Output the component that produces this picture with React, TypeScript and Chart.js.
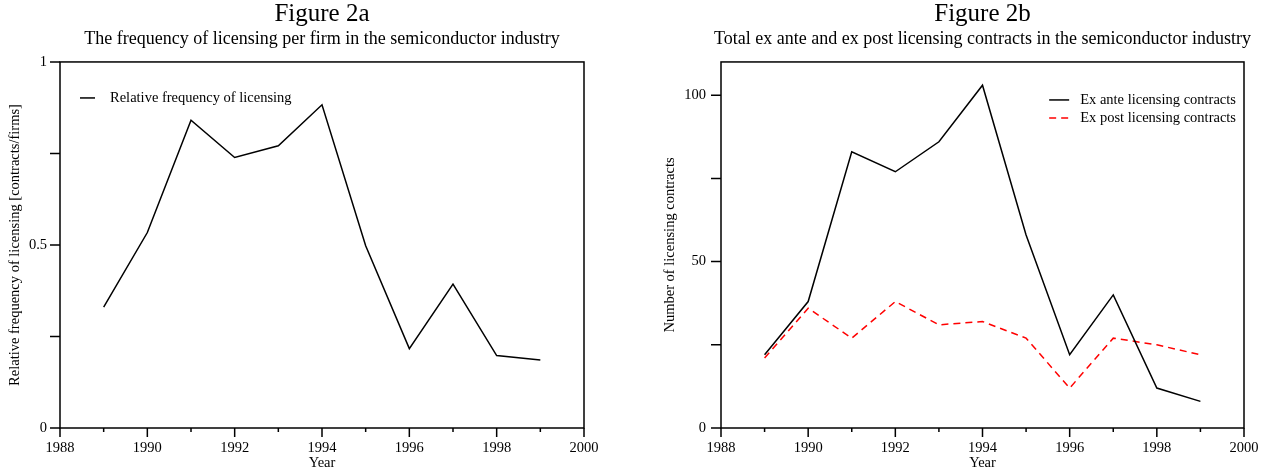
import React, { useEffect, useRef } from 'react';
import { Chart, registerables } from 'chart.js';

Chart.register(...registerables);

// ---------- data ----------
const years = [1989, 1990, 1991, 1992, 1993, 1994, 1995, 1996, 1997, 1998, 1999];
const relativeFrequency = [0.33, 0.534, 0.841, 0.739, 0.771, 0.883, 0.498, 0.217, 0.393, 0.198, 0.186];
const exAnte = [22, 38, 83, 77, 86, 103, 58, 22, 40, 12, 8];
const exPost = [21, 36, 27, 38, 31, 32, 27, 12, 27, 25, 22];

const xTickValues = [1988, 1989, 1990, 1991, 1992, 1993, 1994, 1995, 1996, 1997, 1998, 1999, 2000];
const xTickLabels = [1988, 1990, 1992, 1994, 1996, 1998, 2000];
const leftYTickValues = [0, 0.25, 0.5, 0.75, 1];
const leftYTickLabels = [0, 0.5, 1];
const rightYTickValues = [0, 25, 50, 75, 100];
const rightYTickLabels = [0, 50, 100];

const SERIF = "'Liberation Serif', 'Times New Roman', serif";

// ---------- plugins ----------
const innerLegend = {
  id: 'innerLegend',
  afterDraw(chart: any, _args: any, opts: any) {
    const { ctx, chartArea } = chart;
    ctx.save();
    ctx.font = `${opts.fontSize}px ${SERIF}`;
    ctx.textBaseline = 'middle';
    const items = chart.data.datasets;
    const maxW = Math.max(...items.map((d: any) => ctx.measureText(d.label).width));
    const blockW = opts.lineLen + opts.gap + maxW;
    const x0 = opts.align === 'right'
      ? chartArea.right - opts.offsetX - blockW
      : chartArea.left + opts.offsetX;
    items.forEach((d: any, i: number) => {
      const y = chartArea.top + opts.offsetY + i * opts.rowH;
      ctx.strokeStyle = d.borderColor;
      ctx.lineWidth = d.borderWidth;
      ctx.setLineDash(d.borderDash || []);
      ctx.beginPath();
      ctx.moveTo(x0, y);
      ctx.lineTo(x0 + opts.lineLen, y);
      ctx.stroke();
      ctx.setLineDash([]);
      ctx.fillStyle = '#000';
      ctx.textAlign = 'left';
      ctx.fillText(d.label, x0 + opts.lineLen + opts.gap, y);
    });
    ctx.restore();
  },
};

const frameTicks = {
  id: 'frameTicks',
  afterDatasetsDraw(chart: any, _args: any, opts: any) {
    const { ctx, chartArea: a } = chart;
    const xs = chart.scales.x;
    const ys = chart.scales.y;
    ctx.save();
    ctx.strokeStyle = '#000';
    ctx.lineWidth = opts.lineWidth;
    ctx.setLineDash([]);
    ctx.strokeRect(a.left, a.top, a.right - a.left, a.bottom - a.top);
    ctx.beginPath();
    xs.ticks.forEach((t: any) => {
      const px = xs.getPixelForValue(t.value);
      const len = t.label ? opts.xMajor : opts.xMinor;
      ctx.moveTo(px, a.bottom);
      ctx.lineTo(px, a.bottom + len);
    });
    ys.ticks.forEach((t: any) => {
      const py = ys.getPixelForValue(t.value);
      const len = t.label ? opts.yMajor : opts.yMinor;
      ctx.moveTo(a.left - len, py);
      ctx.lineTo(a.left, py);
    });
    ctx.stroke();
    ctx.restore();
  },
};

// ---------- config builder ----------
function makeConfig(p: {
  title: string;
  subtitle: string;
  yTitle: string;
  datasets: any[];
  yMax: number;
  yTickValues: number[];
  yTickLabels: number[];
  yAxisWidth: number;
  yLabelPad: number;
  yTitlePad: number;
  areaRightGap: number;
  legend: any;
}): any {
  return {
    type: 'line',
    data: { datasets: p.datasets },
    plugins: [frameTicks, innerLegend],
    options: {
      responsive: false,
      animation: false,
      events: [],
      layout: { padding: 0 },
      plugins: {
        legend: { display: false },
        tooltip: { enabled: false },
        title: {
          display: true,
          text: p.title,
          color: '#000',
          font: { family: SERIF, size: 25, weight: 'normal', lineHeight: 1.15 },
          padding: { top: 0, bottom: 0 },
        },
        subtitle: {
          display: true,
          text: p.subtitle,
          color: '#000',
          font: { family: SERIF, size: 18, weight: 'normal', lineHeight: 1.2 },
          padding: { top: 0, bottom: 11.6 },
        },
        frameTicks: { lineWidth: 1.5, xMajor: 9, xMinor: 4, yMajor: 10, yMinor: 10 },
        innerLegend: p.legend,
      },
      scales: {
        x: {
          type: 'linear',
          min: 1988,
          max: 2000,
          afterBuildTicks: (scale: any) => {
            scale.ticks = xTickValues.map((v) => ({ value: v }));
          },
          afterFit: (scale: any) => {
            scale.height = 44;
            scale.paddingLeft = 0;
            scale.paddingRight = p.areaRightGap;
          },
          grid: { display: false, drawTicks: false },
          border: { display: false },
          ticks: {
            autoSkip: false,
            maxRotation: 0,
            minRotation: 0,
            padding: 11,
            color: '#000',
            font: { family: SERIF, size: 14.5 },
            callback: (v: number) => (xTickLabels.includes(v) ? String(v) : ''),
          },
          title: {
            display: true,
            text: 'Year',
            color: '#000',
            font: { family: SERIF, size: 14.5, lineHeight: 1.2 },
            padding: { top: 0, bottom: 0 },
          },
        },
        y: {
          type: 'linear',
          min: 0,
          max: p.yMax,
          afterBuildTicks: (scale: any) => {
            scale.ticks = p.yTickValues.map((v) => ({ value: v }));
          },
          afterFit: (scale: any) => {
            scale.width = p.yAxisWidth;
            scale.paddingTop = 0;
            scale.paddingBottom = 0;
          },
          grid: { display: false, drawTicks: false },
          border: { display: false },
          ticks: {
            autoSkip: false,
            padding: p.yLabelPad,
            color: '#000',
            font: { family: SERIF, size: 14.5 },
            callback: (v: number) => (p.yTickLabels.includes(v) ? String(v) : ''),
          },
          title: {
            display: true,
            text: p.yTitle,
            color: '#000',
            font: { family: SERIF, size: 14.5, lineHeight: 1.2 },
            padding: { top: p.yTitlePad, bottom: 0 },
          },
        },
      },
    },
  };
}

const toPoints = (vals: number[]) => years.map((x, i) => ({ x, y: vals[i] }));

export default function App() {
  const leftRef = useRef<HTMLCanvasElement | null>(null);
  const rightRef = useRef<HTMLCanvasElement | null>(null);

  useEffect(() => {
    const left = new Chart(
      leftRef.current as HTMLCanvasElement,
      makeConfig({
        title: 'Figure 2a',
        subtitle: 'The frequency of licensing per firm in the semiconductor industry',
        yTitle: 'Relative frequency of licensing [contracts/firms]',
        datasets: [
          {
            label: 'Relative frequency of licensing',
            data: toPoints(relativeFrequency),
            borderColor: '#000',
            borderWidth: 1.5,
            pointRadius: 0,
            tension: 0,
            fill: false,
          },
        ],
        yMax: 1,
        yTickValues: leftYTickValues,
        yTickLabels: leftYTickLabels,
        yAxisWidth: 60,
        yLabelPad: 13,
        yTitlePad: 6.3,
        areaRightGap: 60,
        legend: { align: 'left', offsetX: 20, offsetY: 36, lineLen: 15, gap: 15, rowH: 18, fontSize: 14.5 },
      })
    );
    const right = new Chart(
      rightRef.current as HTMLCanvasElement,
      makeConfig({
        title: 'Figure 2b',
        subtitle: 'Total ex ante and ex post licensing contracts in the semiconductor industry',
        yTitle: 'Number of licensing contracts',
        datasets: [
          {
            label: 'Ex ante licensing contracts',
            data: toPoints(exAnte),
            borderColor: '#000',
            borderWidth: 1.5,
            pointRadius: 0,
            tension: 0,
            fill: false,
          },
          {
            label: 'Ex post licensing contracts',
            data: toPoints(exPost),
            borderColor: '#ff0000',
            borderWidth: 1.5,
            borderDash: [7, 5],
            pointRadius: 0,
            tension: 0,
            fill: false,
          },
        ],
        yMax: 110,
        yTickValues: rightYTickValues,
        yTickLabels: rightYTickLabels,
        yAxisWidth: 89,
        yLabelPad: 15,
        yTitlePad: 29.3,
        areaRightGap: 89,
        legend: { align: 'right', offsetX: 8, offsetY: 38, lineLen: 20, gap: 11, rowH: 18, fontSize: 14.5 },
      })
    );
    return () => {
      left.destroy();
      right.destroy();
    };
  }, []);

  return (
    <div
      style={{
        position: 'absolute',
        left: 0,
        top: 0,
        width: 1265,
        height: 472,
        overflow: 'hidden',
        background: '#fff',
      }}
    >
      <canvas
        ref={leftRef}
        width={644}
        height={472}
        style={{ position: 'absolute', left: 0, top: 0, width: 644, height: 472 }}
      />
      <canvas
        ref={rightRef}
        width={701}
        height={472}
        style={{ position: 'absolute', left: 632, top: 0, width: 701, height: 472 }}
      />
    </div>
  );
}
